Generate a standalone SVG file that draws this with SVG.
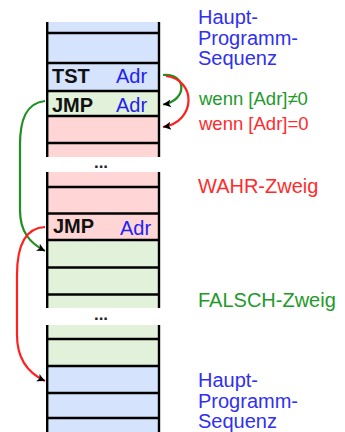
<svg xmlns="http://www.w3.org/2000/svg" width="345" height="432" viewBox="0 0 345 432">
<defs>
<style>
.blue{fill:#d5e4fc}
.green{fill:#e2f1d9}
.pink{fill:#ffd5d5}
.hl{stroke:#000;stroke-width:2.4}
.vl{stroke:#000;stroke-width:2.4}
.op{font-family:"Liberation Sans",Arial,sans-serif;font-weight:bold;font-size:20px;fill:#111}
.adr{font-family:"Liberation Sans",Arial,sans-serif;font-size:20px;fill:#2323f0}
.dots{font-family:"Liberation Sans",Arial,sans-serif;font-weight:bold;font-size:17px;fill:#222}
.lab{font-family:"Liberation Sans",Arial,sans-serif;font-size:20px}
.cond{font-family:"Liberation Sans",Arial,sans-serif;font-size:18.5px}
.tb{fill:#3030f0}
.tg{fill:#229a2a}
.tr{fill:#ff2b2b}
.ag{fill:none;stroke:#1f8f1f;stroke-width:2.2}
.ar{fill:none;stroke:#ff2020;stroke-width:2.2}
</style>
<marker id="ah" markerUnits="userSpaceOnUse" markerWidth="10" markerHeight="10" refX="8" refY="4" orient="auto" viewBox="0 0 10 8">
<path d="M0,0 L8,4 L0,8 L2,4 Z" fill="#000"/>
</marker>
</defs>
<rect width="345" height="432" fill="#fff"/>
<g id="memory">
<rect class="blue" x="47" y="22" width="112" height="69"/>
<rect class="green" x="47" y="91" width="112" height="25"/>
<rect class="pink" x="47" y="116" width="112" height="124"/>
<rect class="green" x="47" y="240" width="112" height="126"/>
<rect class="blue" x="47" y="366" width="112" height="66"/>
<line class="vl" x1="47.2" y1="22" x2="47.2" y2="157"/>
<line class="vl" x1="159" y1="22" x2="159" y2="157"/>
<line class="vl" x1="47.2" y1="172" x2="47.2" y2="308"/>
<line class="vl" x1="159" y1="172" x2="159" y2="308"/>
<line class="vl" x1="47.2" y1="325" x2="47.2" y2="432"/>
<line class="vl" x1="159" y1="325" x2="159" y2="432"/>
<rect x="46" y="157" width="115" height="15" fill="#fff"/>
<rect x="46" y="308" width="115" height="17" fill="#fff"/>
<g class="hl">
<line x1="46" y1="33" x2="160" y2="33"/>
<line x1="46" y1="63" x2="160" y2="63"/>
<line x1="46" y1="91" x2="160" y2="91"/>
<line x1="46" y1="116" x2="160" y2="116"/>
<line x1="46" y1="143" x2="160" y2="143"/>
<line x1="46" y1="187" x2="160" y2="187"/>
<line x1="46" y1="213.5" x2="160" y2="213.5"/>
<line x1="46" y1="240" x2="160" y2="240"/>
<line x1="46" y1="267.5" x2="160" y2="267.5"/>
<line x1="46" y1="294.5" x2="160" y2="294.5"/>
<line x1="46" y1="339" x2="160" y2="339"/>
<line x1="46" y1="366" x2="160" y2="366"/>
<line x1="46" y1="393" x2="160" y2="393"/>
<line x1="46" y1="418" x2="160" y2="418"/>
</g>
</g>
<g id="tst">
<text class="op" x="52" y="83">TST</text>
<text class="adr" x="116" y="83">Adr</text>
</g>
<g id="jmp1">
<text class="op" x="52" y="111.5">JMP</text>
<text class="adr" x="116" y="111.5">Adr</text>
</g>
<g id="gap1"><text class="dots" x="101" y="168" text-anchor="middle">...</text></g>
<g id="jmp2">
<text class="op" x="53" y="233">JMP</text>
<text class="adr" x="120" y="235">Adr</text>
</g>
<g id="gap2"><text class="dots" x="101" y="320" text-anchor="middle">...</text></g>
<g id="labels">
<text class="lab tb" x="198" y="24">Haupt-</text>
<text class="lab tb" x="198" y="44.5">Programm-</text>
<text class="lab tb" x="198" y="65">Sequenz</text>
<text class="cond tg" x="199" y="105">wenn [Adr]≠0</text>
<text class="cond tr" x="199" y="130">wenn [Adr]=0</text>
<text class="lab tr" x="198" y="192.5">WAHR-Zweig</text>
<text class="lab tg" x="198" y="307">FALSCH-Zweig</text>
<text class="lab tb" x="198" y="387">Haupt-</text>
<text class="lab tb" x="198" y="407.5">Programm-</text>
<text class="lab tb" x="198" y="428">Sequenz</text>
</g>
<g id="connectors">
<path class="ag" d="M163,75 C188,73 187,101 163,104.5" marker-end="url(#ah)"/>
<path class="ar" d="M166,76 C197,80 196,122 163,127" marker-end="url(#ah)"/>
<path class="ag" d="M45,101 C26,103 20,120 20,145 L20,210 C20,232 30,243 45,251" marker-end="url(#ah)"/>
<path class="ar" d="M45,227 C23,228 17,250 17,275 L17,335 C17,358 28,373 45,381" marker-end="url(#ah)"/>
</g>
</svg>
